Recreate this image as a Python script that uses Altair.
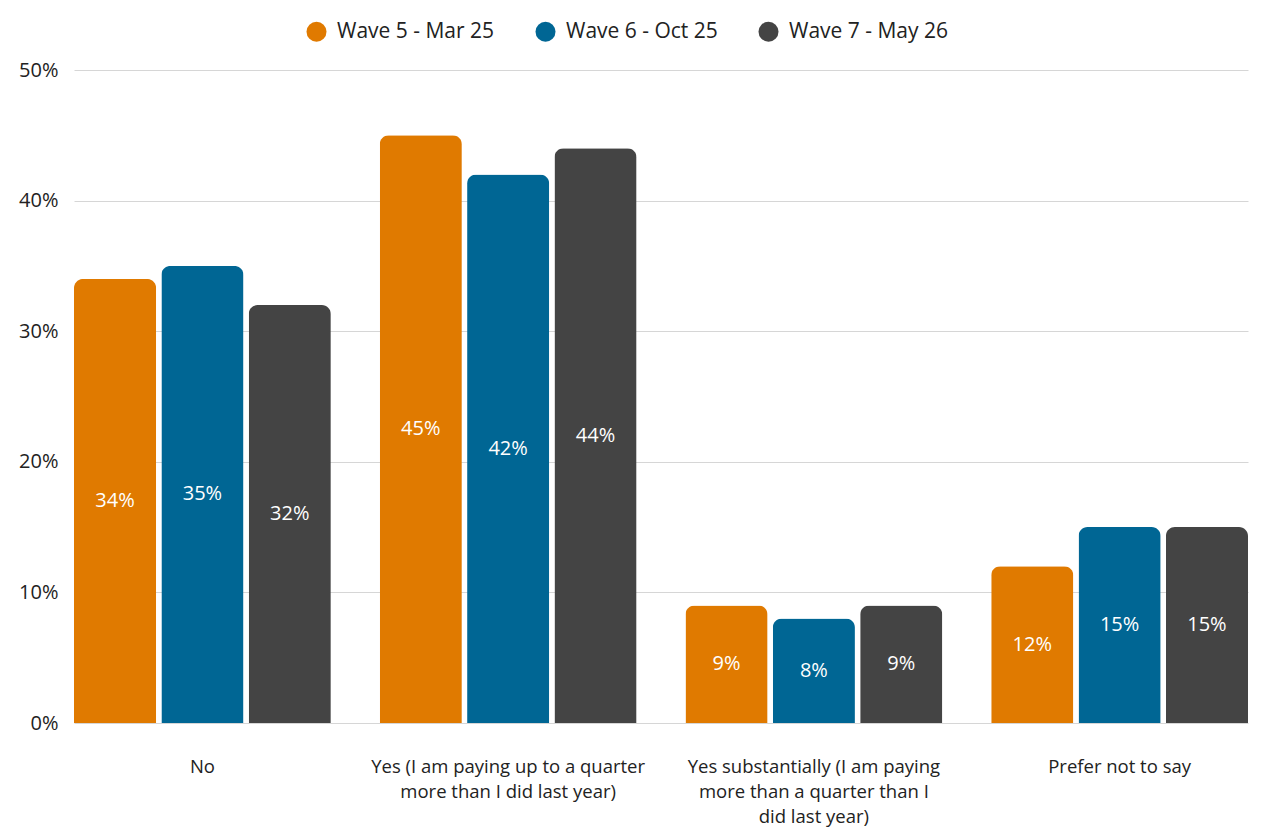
import altair as alt
import pandas as pd

categories = [
    "No",
    "Yes (I am paying up to a quarter|more than I did last year)",
    "Yes substantially (I am paying|more than a quarter than I|did last year)",
    "Prefer not to say",
]
waves = ["Wave 5 - Mar 25", "Wave 6 - Oct 25", "Wave 7 - May 26"]
wave5 = [34, 45, 9, 12]
wave6 = [35, 42, 8, 15]
wave7 = [32, 44, 9, 15]
colors = ["#E07A00", "#006694", "#444444"]

rows = []
for w, vals in zip(waves, [wave5, wave6, wave7]):
    for c, v in zip(categories, vals):
        rows.append({"category": c, "wave": w, "value": v})
df = pd.DataFrame(rows)

FONT = "Open Sans"

base = alt.Chart(df).encode(
    x=alt.X(
        "category:N",
        sort=categories,
        title=None,
        scale=alt.Scale(paddingInner=0.16, paddingOuter=0),
        axis=alt.Axis(
            labelAngle=0,
            ticks=False,
            domain=False,
            grid=False,
            labelPadding=34,
            labelFontSize=18.5,
            labelLineHeight=25,
            labelLimit=0,
            labelColor="#222222",
            labelFont=FONT,
            labelExpr="split(datum.label, '|')",
        ),
    ),
    xOffset=alt.XOffset(
        "wave:N", sort=waves, scale=alt.Scale(paddingInner=0.06, paddingOuter=0)
    ),
)

bars = base.mark_bar(cornerRadiusTopLeft=9, cornerRadiusTopRight=9).encode(
    y=alt.Y(
        "value:Q",
        title=None,
        scale=alt.Scale(domain=[0, 50]),
        axis=alt.Axis(
            values=[0, 10, 20, 30, 40, 50],
            labelExpr="datum.value + '%'",
            ticks=False,
            domain=False,
            gridColor="#d6d6d6",
            gridWidth=1,
            labelPadding=16,
            labelFontSize=20,
            labelColor="#222222",
            labelFont=FONT,
        ),
    ),
    color=alt.Color(
        "wave:N",
        sort=waves,
        scale=alt.Scale(domain=waves, range=colors),
        legend=alt.Legend(
            title=None,
            orient="none",
            direction="horizontal",
            legendX=232,
            legendY=-49,
            symbolType="circle",
            symbolSize=400,
            symbolStrokeWidth=0,
            labelFontSize=21,
            labelFont=FONT,
            labelColor="#222222",
            labelOffset=10,
            labelLimit=0,
            columnPadding=40,
        ),
    ),
)

labels = base.transform_calculate(mid="datum.value / 2").mark_text(
    color="white", fontSize=20, font=FONT, baseline="middle", align="center"
).encode(
    y="mid:Q",
    text=alt.Text("label:N"),
).transform_calculate(label="datum.value + '%'")

chart = (
    alt.layer(bars, labels)
    .properties(
        width=1174,
        height=653,
        autosize=alt.AutoSizeParams(type="none"),
        padding={"left": 66, "top": 62, "right": 10, "bottom": 110},
    )
    .configure(font=FONT, view=alt.ViewConfig(stroke="transparent", strokeWidth=0))
)

chart.save("out.html", embed_options={"renderer": "svg", "actions": False})
